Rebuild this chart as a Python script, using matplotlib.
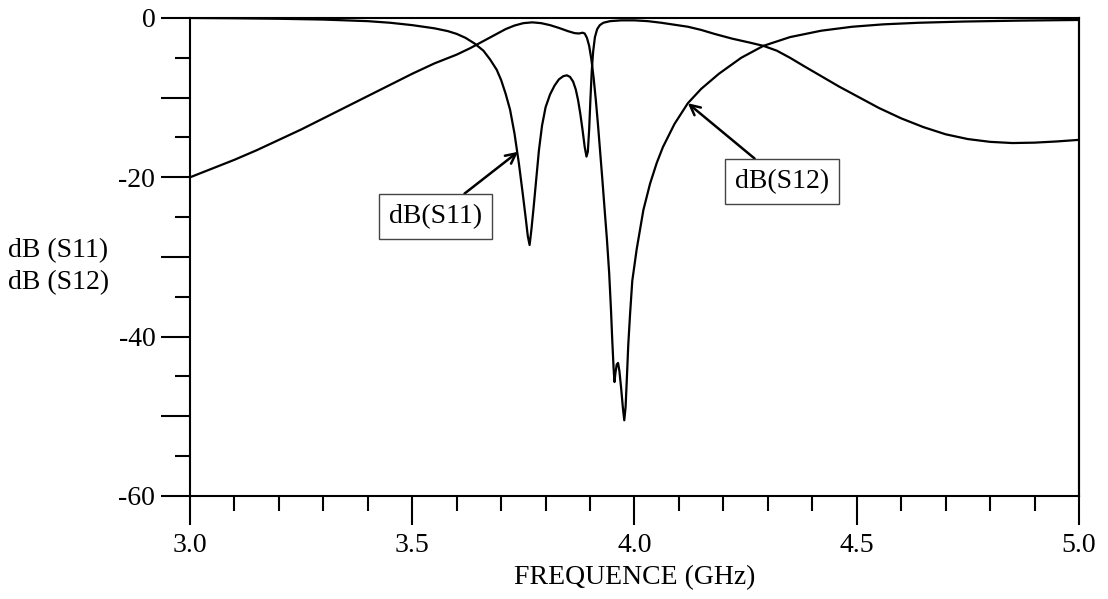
"""
plot.py
=======
dB(S11) / dB(S12) of the filter vs frequency, simulator-style axes.
"""

import matplotlib
matplotlib.use("Agg")
import matplotlib.pyplot as plt
import matplotlib.ticker as mticker


# ──────────────────────────────────────────────────────────────────────────────
# DATA (GHz, dB)
# ──────────────────────────────────────────────────────────────────────────────

s11_freq = [3.00, 3.10, 3.20, 3.30, 3.35, 3.40, 3.45, 3.50, 3.55, 3.58,
            3.60, 3.62, 3.64, 3.66, 3.675, 3.69, 3.70, 3.71, 3.72, 3.73,
            3.74, 3.748, 3.755, 3.760, 3.764, 3.768, 3.773, 3.779, 3.785, 3.792,
            3.800, 3.810, 3.820, 3.830, 3.840, 3.848, 3.855, 3.862, 3.868, 3.873,
            3.878, 3.883, 3.888, 3.892, 3.895, 3.898, 3.901, 3.904, 3.907, 3.911,
            3.916, 3.922, 3.930, 3.945, 3.97, 4.00, 4.03, 4.06, 4.09, 4.12,
            4.15, 4.18, 4.22, 4.26, 4.29, 4.32, 4.35, 4.38, 4.42, 4.46,
            4.50, 4.55, 4.60, 4.65, 4.70, 4.75, 4.80, 4.85, 4.90, 4.95,
            5.00]
s11_db = [0.0, -0.04, -0.1, -0.2, -0.3, -0.4, -0.6, -0.9, -1.3, -1.65,
          -2.0, -2.5, -3.2, -4.1, -5.2, -6.5, -7.8, -9.5, -11.5, -14.5,
          -18.3, -21.8, -25.0, -27.4, -28.5, -26.6, -23.8, -20.2, -16.6, -13.5,
          -11.2, -9.6, -8.5, -7.7, -7.3, -7.2, -7.4, -8.0, -9.0, -10.3,
          -12.0, -14.0, -16.2, -17.4, -16.8, -14.0, -10.0, -6.5, -4.2, -2.4,
          -1.4, -0.9, -0.6, -0.4, -0.3, -0.3, -0.4, -0.6, -0.85, -1.1,
          -1.5, -2.0, -2.6, -3.1, -3.5, -4.1, -5.0, -6.0, -7.3, -8.6,
          -9.8, -11.3, -12.6, -13.7, -14.6, -15.2, -15.55, -15.7, -15.65, -15.5,
          -15.3]

s12_freq = [3.00, 3.05, 3.10, 3.15, 3.20, 3.25, 3.30, 3.35, 3.40, 3.45,
            3.50, 3.55, 3.60, 3.63, 3.66, 3.69, 3.71, 3.73, 3.75, 3.77,
            3.79, 3.81, 3.83, 3.85, 3.865, 3.875, 3.883, 3.888, 3.893, 3.898,
            3.903, 3.908, 3.913, 3.918, 3.923, 3.928, 3.933, 3.938, 3.943, 3.947,
            3.950, 3.953, 3.955, 3.957, 3.960, 3.963, 3.966, 3.970, 3.974, 3.977,
            3.980, 3.983, 3.986, 3.990, 3.995, 4.005, 4.020, 4.035, 4.050, 4.064,
            4.09, 4.12, 4.15, 4.19, 4.24, 4.29, 4.35, 4.42, 4.49, 4.56,
            4.64, 4.74, 4.87, 5.00]
s12_db = [-20.0, -18.9, -17.8, -16.6, -15.3, -14.0, -12.6, -11.2, -9.8, -8.4,
          -7.0, -5.7, -4.6, -3.8, -2.9, -2.0, -1.4, -0.95, -0.65, -0.55,
          -0.65, -0.9, -1.25, -1.65, -1.9, -1.95, -1.85, -1.95, -2.5, -3.5,
          -5.2, -7.5, -10.3, -13.5, -17.0, -20.5, -24.2, -27.8, -32.0, -36.5,
          -40.5, -44.0, -45.7, -44.6, -43.5, -43.3, -44.3, -46.5, -49.0, -50.5,
          -48.8, -45.0, -41.0, -37.2, -33.0, -29.0, -24.1, -20.8, -18.2, -16.2,
          -13.3, -10.7, -8.9, -7.0, -5.0, -3.5, -2.4, -1.6, -1.1, -0.8,
          -0.6, -0.45, -0.33, -0.25]

x_ticks = [3.0, 3.5, 4.0, 4.5, 5.0]
y_ticks = [0, -20, -40, -60]


# ──────────────────────────────────────────────────────────────────────────────
# STYLE
# ──────────────────────────────────────────────────────────────────────────────

plt.rcParams.update({
    "font.family":        ["Liberation Serif", "DejaVu Serif"],
    "font.size":          20,
    "axes.unicode_minus": False,
    "axes.linewidth":     1.5,
    "xtick.direction":    "out",
    "ytick.direction":    "out",
    "lines.solid_joinstyle": "round",
})

fig = plt.figure(figsize=(11.08, 5.99), dpi=100)
ax = fig.add_axes([0.1715, 0.1720, 0.8023, 0.7980])

# ── Curves ────────────────────────────────────────────────────────────
ax.plot(s11_freq, s11_db, color="black", linewidth=1.6, zorder=3)
ax.plot(s12_freq, s12_db, color="black", linewidth=1.6, zorder=3)

ax.set_xlim(3.0, 5.0)
ax.set_ylim(-60, 0)

# ── Ticks: long every 10 dB / 0.5 GHz, short every 5 dB / 0.1 GHz ────
ax.xaxis.set_major_locator(mticker.FixedLocator(x_ticks))
ax.xaxis.set_minor_locator(mticker.MultipleLocator(0.1))
ax.xaxis.set_major_formatter(mticker.FormatStrFormatter("%.1f"))

ax.yaxis.set_major_locator(mticker.MultipleLocator(10))
ax.yaxis.set_minor_locator(mticker.MultipleLocator(5))
ax.yaxis.set_major_formatter(mticker.FuncFormatter(
    lambda v, _: f"{v:.0f}" if round(v) in y_ticks else ""))

ax.tick_params(which="major", length=21, width=1.5, labelsize=20)
ax.tick_params(which="minor", length=10.5, width=1.5)
ax.tick_params(axis="x", which="major", pad=6)
ax.tick_params(axis="y", which="major", pad=4)

# right spine runs down to the 5.0 tick
ax.plot([5.0, 5.0], [-60, 0], color="black", linewidth=1.5,
        clip_on=False, zorder=4)

ax.set_xlabel("FREQUENCE (GHz)", fontsize=20, labelpad=5)
fig.text(0.007, 0.555, "dB (S11)\ndB (S12)", fontsize=20,
         ha="left", va="center", linespacing=1.35)

# ── Labels with arrows ────────────────────────────────────────────────
box = dict(boxstyle="square,pad=0.35", facecolor="white",
           edgecolor="#444444", linewidth=1.0)
arrow = dict(arrowstyle="->", color="black", linewidth=1.8,
             shrinkA=0, shrinkB=0, mutation_scale=18)

ax.annotate("dB(S11)", xy=(3.738, -16.8), xytext=(3.552, -24.9),
            ha="center", va="center", fontsize=20,
            bbox=box, arrowprops=arrow, zorder=5)
ax.annotate("dB(S12)", xy=(4.120, -10.7), xytext=(4.332, -20.5),
            ha="center", va="center", fontsize=20,
            bbox=box, arrowprops=arrow, zorder=5)

fig.savefig("out.png", dpi=100)
